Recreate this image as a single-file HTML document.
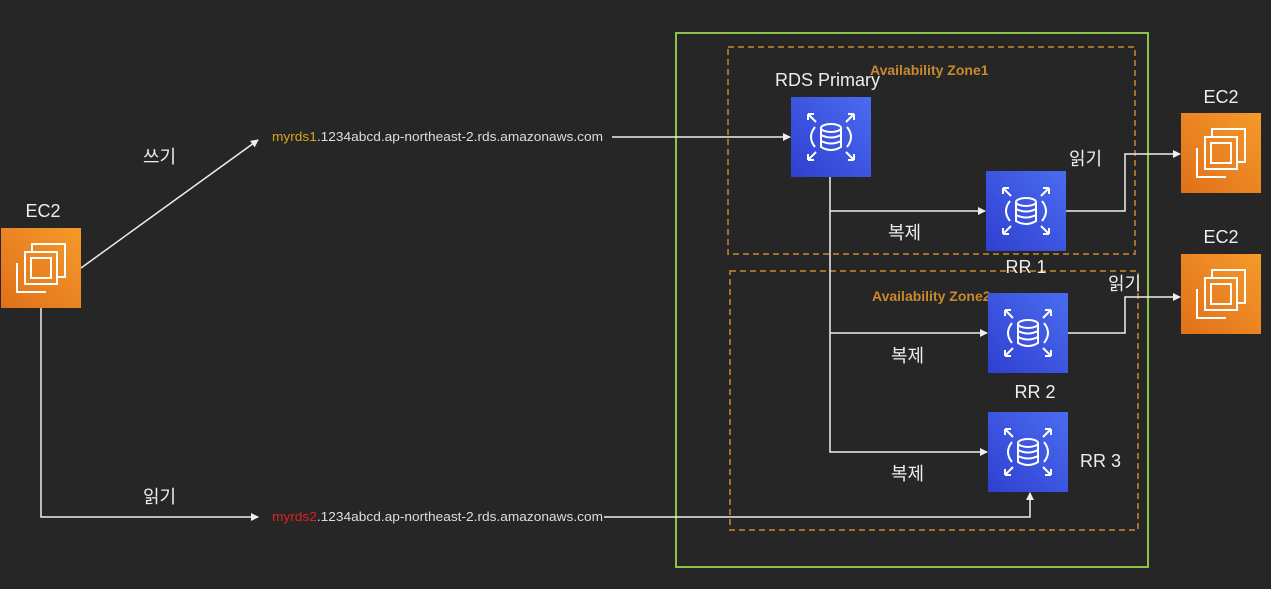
<!DOCTYPE html>
<html><head><meta charset="utf-8"><style>
html,body{margin:0;padding:0;background:#262626;width:1271px;height:589px;overflow:hidden}
svg{display:block}
text{font-family:"Liberation Sans","Noto Sans CJK KR",sans-serif}
</style></head><body>
<svg width="1271" height="589" viewBox="0 0 1271 589" xmlns="http://www.w3.org/2000/svg">
<defs>
<marker id="a" markerWidth="8" markerHeight="8" refX="7" refY="4" orient="auto" markerUnits="userSpaceOnUse"><path d="M0,0 L8,4 L0,8 Z" fill="#eee"/></marker>
<linearGradient id="o" x1="0" y1="1" x2="1" y2="0"><stop offset="0" stop-color="#e0701a"/><stop offset="1" stop-color="#f59a2a"/></linearGradient>
<linearGradient id="b" x1="0" y1="1" x2="1" y2="0"><stop offset="0" stop-color="#2f3fd0"/><stop offset="1" stop-color="#4a6cf0"/></linearGradient>
<g id="ec2">
<rect width="80" height="80" fill="url(#o)"/>
<g fill="none" stroke="#fff" stroke-width="2">
<path d="M31,24 V16 H64 V49 H56"/><path d="M16,35 V64 H45"/>
<rect x="24" y="24" width="32" height="32"/>
<rect x="30" y="30" width="20" height="20"/>
</g>
</g>
<g id="rds">
<rect width="80" height="80" fill="url(#b)"/>
<g fill="none" stroke="#fff" stroke-width="2">
<path d="M17,17 L25,25 M17,17 h6 M17,17 v6"/><path d="M63,17 L55,25 M63,17 h-6 M63,17 v6"/>
<path d="M17,63 L25,55 M17,63 h6 M17,63 v-6"/><path d="M63,63 L55,55 M63,63 h-6 M63,63 v-6"/>
<path d="M24,30 Q16,40 24,50"/><path d="M56,30 Q64,40 56,50"/>
<ellipse cx="40" cy="31" rx="10" ry="4"/><path d="M30,31 V50 Q40,56 50,50 V31 M30,38 Q40,43 50,38 M30,44 Q40,49 50,44"/>
</g>
</g>
</defs>
<rect x="676" y="33" width="472" height="534" fill="none" stroke="#8bc34a" stroke-width="2"/>
<rect x="728" y="47" width="407" height="207" fill="none" stroke="#c8892f" stroke-width="1.5" stroke-dasharray="6,4"/>
<rect x="730" y="271" width="408" height="259" fill="none" stroke="#c8892f" stroke-width="1.5" stroke-dasharray="6,4"/>
<text x="870" y="75" fill="#c8892f" font-size="14" font-weight="bold">Availability Zone1</text>
<text x="872" y="301" fill="#c8892f" font-size="14" font-weight="bold">Availability Zone2</text>
<g stroke="#eee" stroke-width="1.5" fill="none">
<path d="M81,268 L258,140" marker-end="url(#a)"/>
<path d="M612,137 H790" marker-end="url(#a)"/>
<path d="M830,177 V452 H987" marker-end="url(#a)"/>
<path d="M830,211 H985" marker-end="url(#a)"/>
<path d="M830,333 H987" marker-end="url(#a)"/>
<path d="M1064,211 H1125 V154 H1180" marker-end="url(#a)"/>
<path d="M1068,333 H1125 V297 H1180" marker-end="url(#a)"/>
<path d="M41,308 V517 H258" marker-end="url(#a)"/>
<path d="M604,517 H1030 V493" marker-end="url(#a)"/>
</g>
<use href="#ec2" x="1" y="228"/>
<use href="#ec2" x="1181" y="113"/>
<use href="#ec2" x="1181" y="254"/>
<use href="#rds" x="791" y="97"/>
<use href="#rds" x="986" y="171"/>
<use href="#rds" x="988" y="293"/>
<use href="#rds" x="988" y="412"/>
<g fill="#eee" font-size="18">
<text x="43" y="217" text-anchor="middle">EC2</text>
<text x="1221" y="103" text-anchor="middle">EC2</text>
<text x="1221" y="243" text-anchor="middle">EC2</text>
<text x="775" y="86">RDS Primary</text>
<text x="1026" y="273" text-anchor="middle">RR 1</text>
<text x="1035" y="398" text-anchor="middle">RR 2</text>
<text x="1080" y="467">RR 3</text>
<text x="143" y="163">쓰기</text>
<text x="143" y="503">읽기</text>
<text x="1069" y="165">읽기</text>
<text x="1108" y="290">읽기</text>
<text x="888" y="239">복제</text>
<text x="891" y="362">복제</text>
<text x="891" y="480">복제</text>
</g>
<text x="272" y="141" font-size="13" fill="#ddd" textLength="331" lengthAdjust="spacingAndGlyphs"><tspan fill="#d9a520">myrds1</tspan>.1234abcd.ap-northeast-2.rds.amazonaws.com</text>
<text x="272" y="521" font-size="13" fill="#ddd" textLength="331" lengthAdjust="spacingAndGlyphs"><tspan fill="#d22">myrds2</tspan>.1234abcd.ap-northeast-2.rds.amazonaws.com</text>
</svg>
</body></html>
